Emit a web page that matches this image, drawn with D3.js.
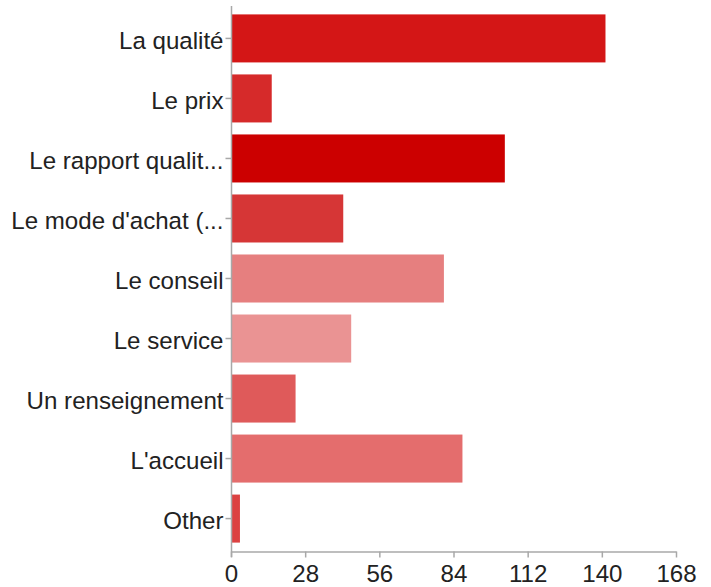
<!DOCTYPE html>
<html>
<head>
<meta charset="utf-8">
<script src="https://cdn.jsdelivr.net/npm/d3@7"></script>
<style>
  body { margin: 0; background: #fff; }
  text { font-family: "Liberation Sans", Arial, Helvetica, sans-serif; }
</style>
</head>
<body>
<div id="chart"></div>
<script>
// categories and counts, top to bottom
const categories = ["La qualité", "Le prix", "Le rapport qualit...", "Le mode d'achat (...",
    "Le conseil", "Le service", "Un renseignement", "L'accueil", "Other"];
const values = [141, 15, 103, 42, 80, 45, 24, 87, 3];
const colors = ["#d41616", "#d62a2a", "#cc0000", "#d63636", "#e67f7f",
    "#ea9393", "#df5a5a", "#e46d6d", "#dc4242"];
const xTicks = [0, 28, 56, 84, 112, 140, 168];

const svg = d3.select("#chart").append("svg")
    .attr("width", 711)
    .attr("height", 587);

const plotLeft = 231, plotRight = 676, plotTop = 6, plotBottom = 551;

const x = d3.scaleLinear().domain([0, 168]).range([plotLeft, plotRight]);
const y = d3.scaleBand().domain(categories).range([plotTop, plotBottom])
    .paddingInner(0.2).paddingOuter(0.14);

// bars
svg.append("g").selectAll("rect")
    .data(values)
    .join("rect")
    .attr("x", x(0) + 1)
    .attr("y", (d, i) => y(categories[i]))
    .attr("width", d => x(d) - x(0))
    .attr("height", y.bandwidth())
    .attr("fill", (d, i) => colors[i]);

// y axis
const yAxis = svg.append("g")
    .attr("transform", "translate(" + (plotLeft + 0.5) + ",0)")
    .call(d3.axisLeft(y).tickSize(6).tickPadding(2).tickSizeOuter(0));
yAxis.select(".domain").attr("d", "M0," + plotTop + "V" + (plotBottom + 6));
yAxis.selectAll("text").attr("font-size", 24.1).attr("fill", "#222").attr("dy", "0.45em");

// x axis
const xAxis = svg.append("g")
    .attr("transform", "translate(0," + (plotBottom + 0.5) + ")")
    .call(d3.axisBottom(x).tickValues(xTicks).tickSize(6).tickPadding(7).tickSizeOuter(0));
xAxis.selectAll("text").attr("font-size", 24.1).attr("fill", "#222");

svg.selectAll(".domain, .tick line").attr("stroke", "#a8a8a8").attr("stroke-width", 1.5);
</script>
</body>
</html>
